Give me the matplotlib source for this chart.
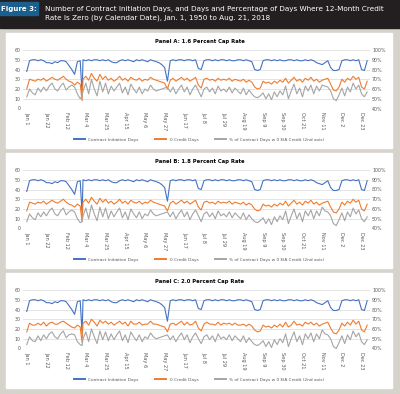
import numpy as np
import matplotlib
matplotlib.use("Agg")
import matplotlib.pyplot as plt
from matplotlib.patches import Rectangle
from matplotlib.lines import Line2D

# ---------- DATA ----------
# one value every 3 days of a leap year (day 0 = Jan 1), plus Feb 29 inserted separately
days = list(range(0, 366, 3))
feb29_day = 59

tick_days = list(range(0, 366, 21))
tick_labels = ["Jan 1", "Jan 22", "Feb 12", "Mar 4", "Mar 25", "Apr 15", "May 6",
               "May 27", "Jun 17", "Jul 8", "Jul 29", "Aug 19", "Sep 9", "Sep 30",
               "Oct 21", "Nov 11", "Dec 2", "Dec 23"]

# Contract Initiation Days (same in all panels)
contract_days = [
    38, 49, 50, 50, 49, 50, 49, 47, 47, 46,
    48, 47, 49, 49, 48, 44, 40, 35, 48, 49,
    50, 49, 50, 49, 50, 50, 49, 50, 49, 50,
    48, 47, 47, 49, 50, 49, 50, 49, 48, 50,
    49, 50, 49, 48, 50, 49, 48, 47, 45, 42,
    28, 49, 50, 49, 50, 50, 49, 50, 50, 49,
    50, 41, 40, 49, 50, 50, 49, 50, 49, 50,
    50, 49, 50, 49, 49, 50, 50, 49, 50, 49,
    48, 40, 39, 40, 49, 50, 50, 49, 50, 49,
    50, 49, 49, 50, 50, 49, 50, 49, 49, 50,
    49, 50, 49, 47, 46, 45, 47, 49, 42, 39,
    39, 40, 49, 50, 50, 49, 50, 49, 50, 40,
    39, 49]
contract_feb29 = 15

# 0 Credit Days
zero_a = [
    20, 30, 29, 28, 30, 29, 31, 28, 30, 32,
    30, 29, 31, 33, 30, 28, 27, 24, 27, 25,
    30, 33, 29, 36, 31, 28, 35, 30, 33, 29,
    31, 28, 30, 33, 29, 31, 28, 32, 30, 29,
    31, 28, 30, 29, 32, 30, 29, 28, 27, 26,
    20, 29, 31, 28, 30, 32, 29, 31, 28, 30,
    32, 24, 21, 30, 31, 29, 30, 28, 31, 29,
    30, 29, 31, 28, 30, 29, 28, 30, 27, 29,
    27, 22, 20, 21, 28, 26, 27, 25, 28, 26,
    29, 27, 31, 26, 29, 32, 28, 30, 27, 31,
    29, 32, 28, 30, 27, 29, 30, 31, 25, 19,
    18, 22, 30, 27, 31, 29, 33, 30, 32, 22,
    20, 28]
zero_b = [
    18, 27, 26, 25, 27, 26, 28, 25, 27, 29,
    27, 26, 28, 30, 27, 25, 24, 22, 25, 23,
    27, 30, 26, 32, 28, 25, 31, 27, 30, 26,
    28, 25, 27, 30, 26, 28, 25, 29, 27, 26,
    28, 25, 27, 26, 29, 27, 26, 25, 24, 23,
    18, 26, 28, 25, 27, 29, 26, 28, 25, 27,
    29, 22, 19, 27, 28, 26, 27, 25, 28, 26,
    27, 26, 28, 25, 27, 26, 25, 27, 24, 26,
    24, 20, 18, 19, 25, 23, 24, 22, 25, 23,
    26, 24, 28, 23, 26, 29, 25, 27, 24, 28,
    26, 29, 25, 27, 24, 26, 27, 28, 22, 17,
    16, 20, 27, 24, 28, 26, 30, 27, 29, 20,
    18, 25]
zero_c = [
    17, 26, 24, 24, 26, 24, 27, 23, 26, 27,
    25, 25, 27, 28, 26, 24, 22, 21, 24, 22,
    26, 28, 24, 30, 27, 23, 29, 26, 28, 25,
    27, 24, 26, 28, 25, 27, 23, 28, 25, 25,
    27, 24, 25, 25, 28, 25, 25, 24, 23, 22,
    17, 25, 26, 24, 26, 28, 24, 27, 24, 25,
    28, 21, 18, 25, 27, 25, 25, 24, 27, 24,
    26, 25, 26, 24, 26, 24, 24, 25, 23, 25,
    23, 19, 17, 18, 24, 22, 23, 21, 24, 22,
    25, 22, 27, 22, 24, 28, 24, 25, 23, 27,
    25, 27, 24, 26, 23, 25, 26, 27, 21, 16,
    15, 19, 26, 23, 27, 24, 29, 25, 28, 19,
    17, 24]
zero_feb29 = [8, 7, 6]

# % of Contract Days w 0 EIA Credit (2nd axis)
pct_a = [
    52, 60, 56, 54, 61, 57, 62, 58, 63, 66,
    60, 58, 63, 66, 59, 62, 64, 62, 55, 50,
    58, 66, 55, 70, 60, 53, 68, 57, 66, 55,
    63, 58, 62, 66, 56, 62, 54, 65, 60, 56,
    62, 55, 60, 58, 64, 60, 58, 59, 60, 61,
    62, 57, 62, 55, 60, 64, 57, 62, 54, 60,
    64, 58, 52, 60, 62, 57, 61, 55, 63, 58,
    60, 57, 62, 56, 61, 58, 55, 61, 54, 59,
    55, 52, 51, 53, 56, 50, 55, 49, 57, 52,
    58, 54, 63, 50, 58, 65, 55, 61, 52, 63,
    58, 64, 55, 63, 58, 64, 63, 62, 58, 50,
    48, 54, 61, 53, 62, 57, 66, 60, 64, 55,
    52, 57]
pct_b = [
    47, 55, 51, 49, 56, 52, 57, 53, 58, 61,
    55, 53, 58, 61, 54, 57, 59, 57, 50, 46,
    53, 61, 50, 64, 55, 48, 62, 52, 61, 50,
    58, 52, 57, 61, 51, 57, 49, 60, 55, 51,
    57, 50, 55, 53, 59, 55, 53, 54, 55, 56,
    57, 52, 57, 50, 55, 59, 52, 57, 49, 55,
    59, 53, 47, 55, 57, 52, 56, 50, 58, 53,
    55, 52, 57, 51, 56, 53, 50, 56, 49, 54,
    50, 47, 46, 48, 51, 45, 50, 44, 52, 47,
    53, 49, 58, 45, 53, 60, 50, 56, 47, 58,
    53, 59, 50, 58, 53, 62, 58, 57, 53, 45,
    43, 49, 56, 48, 57, 52, 61, 55, 59, 50,
    47, 52]
pct_c = [
    44, 52, 48, 47, 53, 48, 54, 50, 55, 57,
    52, 50, 55, 58, 51, 54, 55, 54, 47, 44,
    50, 57, 47, 60, 52, 45, 58, 49, 57, 48,
    55, 49, 54, 58, 48, 54, 46, 57, 52, 48,
    54, 47, 52, 50, 56, 52, 50, 51, 52, 53,
    54, 49, 53, 47, 52, 56, 49, 54, 46, 52,
    56, 50, 45, 52, 54, 49, 53, 47, 55, 50,
    52, 49, 54, 48, 53, 50, 47, 53, 46, 51,
    47, 44, 43, 45, 48, 42, 47, 41, 49, 44,
    50, 46, 55, 42, 50, 57, 47, 53, 44, 55,
    50, 56, 47, 55, 50, 59, 55, 54, 50, 42,
    40, 46, 53, 45, 54, 49, 58, 52, 56, 47,
    44, 49]
pct_feb29 = [53, 47, 43]

panel_titles = ["Panel A: 1.6 Percent Cap Rate", "Panel B: 1.8 Percent Cap Rate",
                "Panel C: 2.0 Percent Cap Rate"]
legend_labels = ["Contract Initiation Days", "0 Credit Days",
                 "% of Contract Days w 0 EIA Credit (2nd axis)"]
zero_series = [zero_a, zero_b, zero_c]
pct_series = [pct_a, pct_b, pct_c]

# ---------- STYLE ----------
W, H = 400, 394
BLUE, ORANGE, GRAY = "#4472C4", "#ED7D31", "#A5A5A5"
BG = "#d6d2cc"
TXT = "#595959"

def fx(px):
    return px / W

def fy(px):
    return 1 - px / H

fig = plt.figure(figsize=(4, 3.94), dpi=100, facecolor=BG)

# header
fig.add_artist(Rectangle((0, fy(28)), 1, 28 / H, transform=fig.transFigure,
                         color="#231f20", zorder=0))
fig.add_artist(Rectangle((0, fy(15)), fx(38), 12.5 / H, transform=fig.transFigure,
                         color="#1b5f8e", zorder=1))
fig.text(fx(19), fy(9), "Figure 3:", color="white", fontsize=5, fontweight="bold",
         ha="center", va="center")
fig.text(fx(45), fy(9.3), "Number of Contract Initiation Days, and Days and Percentage of Days Where 12-Month Credit",
         color="white", fontsize=5.2, ha="left", va="center")
fig.text(fx(45), fy(17.8), "Rate Is Zero (by Calendar Date), Jan. 1, 1950 to Aug. 21, 2018",
         color="white", fontsize=5.2, ha="left", va="center")

# insert Feb 29 into the 3-day grid
ins = days.index(60)
x = np.insert(np.array(days), ins, feb29_day)
blue = np.insert(np.array(contract_days), ins, contract_feb29)

# thicker legend keys like the Excel original
legend_keys = [Line2D([], [], color=c, lw=1.4) for c in (BLUE, ORANGE, GRAY)]

for k in range(3):
    top = 50 + 120 * k
    bot = top + 58.5
    # white panel box
    fig.add_artist(Rectangle((fx(6), fy(bot + 39)), fx(386), (bot + 39 - (top - 17)) / H,
                             transform=fig.transFigure, color="white", zorder=0))
    fig.text(fx(200), fy(top - 8), panel_titles[k], fontsize=3.8, fontweight="bold",
             ha="center", va="center")

    orange = np.insert(np.array(zero_series[k]), ins, zero_feb29[k])
    gray = np.insert(np.array(pct_series[k]), ins, pct_feb29[k])

    ax = fig.add_axes([fx(23), fy(bot), fx(347), (bot - top) / H])
    ax.set_facecolor("none")
    ax2 = ax.twinx()

    ax.plot(x, blue, color=BLUE, lw=0.8)
    ax.plot(x, orange, color=ORANGE, lw=0.8)
    ax2.plot(x, gray, color=GRAY, lw=0.8)

    ax.set_ylim(0, 60)
    ax2.set_ylim(40, 100)
    ax.set_xlim(-4, 366)
    ax.set_yticks(range(0, 61, 10))
    ax2.set_yticks(range(40, 101, 10))
    ax2.set_yticklabels([f"{v}%" for v in range(40, 101, 10)])
    ax.grid(axis="y", color="#d9d9d9", lw=0.5)
    ax.set_axisbelow(True)
    ax.set_xticks(tick_days)
    ax.set_xticklabels(tick_labels, rotation=-90)
    for a in (ax, ax2):
        for s in a.spines.values():
            s.set_visible(False)
        a.tick_params(length=0, pad=1.5, labelsize=3.4, labelcolor=TXT)
    ax.tick_params(axis="x", pad=2.5, labelsize=3.6)

    fig.legend(legend_keys, legend_labels,
               loc="center", bbox_to_anchor=(fx(199), fy(bot + 31)), ncol=3,
               frameon=False, fontsize=3.1, handlelength=2.6, handletextpad=0.8,
               columnspacing=3.8, labelcolor=TXT)

fig.savefig("out.png", dpi=100, facecolor=BG)
